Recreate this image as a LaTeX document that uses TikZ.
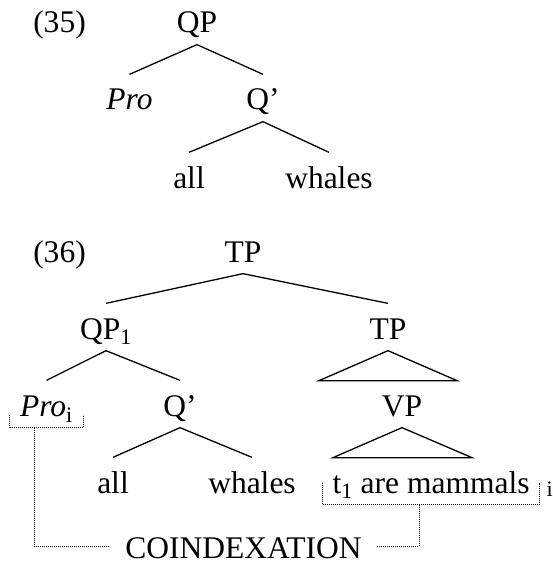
\documentclass[tikz,border=0pt]{standalone}
\usepackage{fontspec}
\setmainfont{Liberation Serif}
\newcommand{\treefont}{\fontsize{31.5}{36}\selectfont}

\begin{document}
\begin{tikzpicture}[x=1pt, y=-1pt, line width=1.3pt,
    main/.style = {font=\treefont, text height=31pt, text depth=7pt, inner sep=4pt, anchor=base},
    boxed/.style = {main, inner xsep=10pt},
    coindex/.style = {line width=1pt, dash pattern=on 1pt off 1pt}]
    \useasboundingbox (0,0) rectangle (553,572);

    % (35)
    \node[main] (ex35)   at (59.5,33)   {(35)};
    \node[main] (qp)     at (197,33)    {QP};
    \node[main] (pro)    at (129.5,110) {\textit{Pro}};
    \node[main] (qbar)   at (263,110)   {Q'};
    \node[main] (all)    at (189,188)   {all};
    \node[main] (whales) at (329,188)   {whales};
    \draw (qp.south) -- (pro.north);
    \draw (qp.south) -- (qbar.north);
    \draw (qbar.south) -- (all.north);
    \draw (qbar.south) -- (whales.north);

    % (36)
    \node[main]  (ex36)    at (59.5,262)  {(36)};
    \node[main]  (tp)      at (243,262)   {TP};
    \node[main]  (qpi)     at (106,339)   {QP\textsubscript{1}};
    \node[main]  (tpr)     at (388,339)   {TP};
    \node[boxed] (proi)    at (46.5,416)  {\textit{Pro}\textsubscript{i}};
    \node[main]  (qbari)   at (180,416)   {Q'};
    \node[main]  (vp)      at (402,416)   {VP};
    \node[main]  (alli)    at (113,493)   {all};
    \node[main]  (whalesi) at (252,493)   {whales};
    \node[main, inner xsep=9pt] (yield) at (431,493) {t\textsubscript{1} are mammals};
    \node[font=\treefont, anchor=base, inner sep=0pt] (ind) at (550,490) {\textsubscript{i}};
    \node[main, inner xsep=15pt] (coind) at (243.5,558) {COINDEXATION};
    \draw (tp.south) -- (qpi.north);
    \draw (tp.south) -- (tpr.north);
    \draw (qpi.south) -- (proi.north);
    \draw (qpi.south) -- (qbari.north);
    \draw (qbari.south) -- (alli.north);
    \draw (qbari.south) -- (whalesi.north);
    \draw (tpr.south) -- ++(-69,30) -- ++(138,0) -- cycle;
    \draw (vp.south) -- ++(-69,30) -- ++(139,0) -- cycle;

    % coindexation
    \draw[coindex] ([yshift=13pt]proi.south west) -- (proi.south west) -- (proi.south east) -- ([yshift=13pt]proi.south east);
    \draw[coindex] ([yshift=22pt]yield.south west) -- (yield.south west) -- (yield.south east) -- ([yshift=22pt]yield.south east);
    \draw[coindex] ([xshift=25pt]proi.south west) |- (coind.west);
    \draw[coindex] (coind.east) -| ([xshift=-12pt]yield.south);
\end{tikzpicture}
\end{document}
